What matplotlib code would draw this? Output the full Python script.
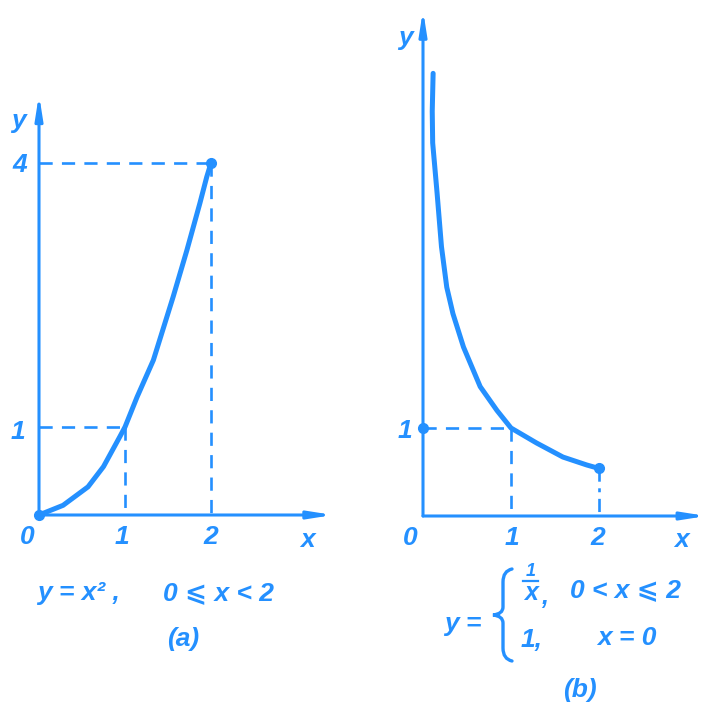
import matplotlib
matplotlib.use('Agg')
import matplotlib.pyplot as plt
from matplotlib.path import Path
from matplotlib.patches import PathPatch
from matplotlib.transforms import Affine2D

C = '#2490ff'
W, H = 708, 713
FONT = ['Liberation Sans Narrow', 'Liberation Sans', 'DejaVu Sans']

# ---- data ----
# (a) y = x^2, 0 <= x < 2  (hand-drawn curve)
a_x = [0.0, 0.28, 0.57, 0.75, 0.94, 1.0, 1.14, 1.33, 1.56, 1.72, 1.87, 1.95, 2.0]
a_y = [0.0, 0.11, 0.32, 0.55, 0.89, 1.0, 1.34, 1.76, 2.48, 3.01, 3.54, 3.84, 4.0]
a_ticks_x = [1, 2]
a_ticks_y = [1, 4]

# (b) y = 1/x on 0 < x <= 2, y = 1 at x = 0 (hand-drawn curve)
b_x = [0.115, 0.105, 0.11, 0.16, 0.21, 0.27, 0.34, 0.46, 0.65, 0.84, 1.0, 1.29, 1.59, 1.86, 2.0]
b_y = [5.03, 4.6, 4.24, 3.67, 3.06, 2.60, 2.30, 1.92, 1.47, 1.20, 1.0, 0.83, 0.67, 0.58, 0.54]
b_ticks_x = [1, 2]
b_ticks_y = [1]

fig = plt.figure(figsize=(W / 100, H / 100), dpi=100)
PIX = Affine2D().scale(1, -1).translate(0, H)  # pixel coords (y down) -> display


def make_axes(box, origin, sx, sy):
    x0, y0, x1, y1 = box
    ox, oy = origin
    ax = fig.add_axes([x0 / W, 1 - y1 / H, (x1 - x0) / W, (y1 - y0) / H])
    ax.set_xlim((x0 - ox) / sx, (x1 - ox) / sx)
    ax.set_ylim((oy - y1) / sy, (oy - y0) / sy)
    ax.axis('off')
    return ax


def ftxt(px, py, s, size=19, ha='center', **kw):
    fig.text(px / W, 1 - py / H, s, color=C, fontsize=size, family=FONT,
             style='italic', weight='bold', ha=ha, va='center', **kw)


def arrow_axes(ax, xend, yend):
    ap = dict(arrowstyle='-|>,head_length=1.4,head_width=0.22', lw=2.2,
              color=C, shrinkA=0, shrinkB=0)
    ax.annotate('', xy=(xend, 0), xytext=(0, 0), arrowprops=ap)
    ax.annotate('', xy=(0, yend), xytext=(0, 0), arrowprops=ap)


dash = dict(color=C, lw=1.9, dashes=(5, 3.5))

# ---------- panel (a) ----------
axa = make_axes((0, 0, 360, 713), (39, 515), 86, 88)
arrow_axes(axa, 3.42, 4.78)
axa.plot([0, a_x[-1]], [a_y[-1], a_y[-1]], **dash)
axa.plot([a_x[-1], a_x[-1]], [a_y[-1], 0], **dash)
axa.plot([0, 1], [1, 1], **dash)
axa.plot([1, 1], [1, 0], **dash)
axa.plot(a_x, a_y, color=C, lw=3.6, solid_capstyle='round', solid_joinstyle='round')
axa.plot([a_x[0], a_x[-1]], [a_y[0], a_y[-1]], 'o', color=C, ms=7)

ftxt(18, 121, 'y')
ftxt(20, 165, str(a_ticks_y[1]))
ftxt(18, 432, str(a_ticks_y[0]))
ftxt(27, 537, '0')
ftxt(122, 537, str(a_ticks_x[0]))
ftxt(211, 537, str(a_ticks_x[1]))
ftxt(307, 540, 'x')
ftxt(37, 593, 'y = x² ,', ha='left')
ftxt(163, 593, '0 ⩽ x < 2', ha='left')
ftxt(183, 639, '(a)')

# ---------- panel (b) ----------
axb = make_axes((360, 0, 708, 713), (423, 516), 88, 88)
arrow_axes(axb, 3.22, 5.75)
axb.plot([0, 1], [1, 1], **dash)
axb.plot([1, 1], [1, 0], **dash)
axb.plot([b_x[-1], b_x[-1]], [b_y[-1], 0], color=C, lw=1.9, dashes=(5, 2.5, 1.5, 2.5))
axb.plot(b_x, b_y, color=C, lw=3.6, solid_capstyle='round', solid_joinstyle='round')
axb.plot([0, b_x[-1]], [1, b_y[-1]], 'o', color=C, ms=7)

ftxt(405, 38, 'y')
ftxt(405, 431, str(b_ticks_y[0]))
ftxt(410, 538, '0')
ftxt(512, 538, str(b_ticks_x[0]))
ftxt(598, 538, str(b_ticks_x[1]))
ftxt(681, 540, 'x')

# piecewise formula
ftxt(463, 624, 'y =')
verts = [(512, 569), (503, 571), (503, 582), (503, 596), (503, 607),
         (503, 614), (493, 615), (503, 616), (503, 623), (503, 634),
         (503, 648), (503, 659), (512, 661)]
codes = [Path.MOVETO, Path.CURVE3, Path.CURVE3, Path.LINETO, Path.LINETO,
         Path.CURVE3, Path.CURVE3, Path.CURVE3, Path.CURVE3, Path.LINETO,
         Path.LINETO, Path.CURVE3, Path.CURVE3]
fig.patches.append(PathPatch(Path(verts, codes), transform=PIX, fill=False,
                             edgecolor=C, lw=2.4, capstyle='round'))
ftxt(531, 571, '1', size=13)
fig.lines.append(plt.Line2D([523, 538], [H - 581, H - 581], transform=None,
                            color=C, lw=1.6))
ftxt(531, 593, 'x', size=18)
ftxt(545, 597, ',', size=18)
ftxt(570, 590, '0 < x ⩽ 2', ha='left')
ftxt(521, 640, '1,', ha='left')
ftxt(597, 638, 'x = 0', ha='left')
ftxt(580, 690, '(b)')

fig.savefig('out.png', dpi=100)
